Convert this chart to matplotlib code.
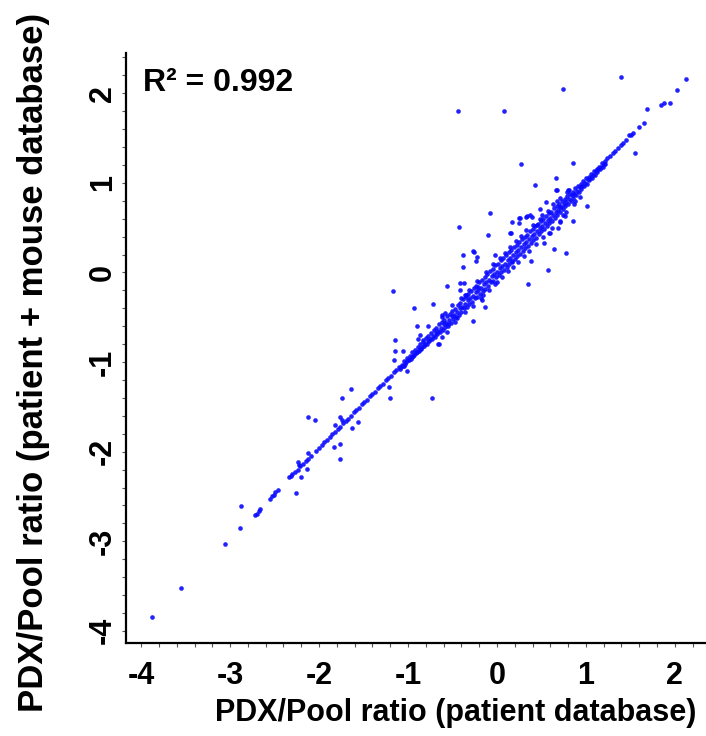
import matplotlib
matplotlib.use("Agg")
import matplotlib.pyplot as plt
from matplotlib.ticker import MultipleLocator

# lower tail of the diagonal
tail_x = [-3.88, -3.55, -3.06, -2.89, -2.72, -2.70, -2.68, -2.66, -2.55, -2.53, -2.51, -2.49, -2.46,
          -2.34, -2.32, -2.30]
tail_y = [-3.84, -3.52, -3.03, -2.85, -2.71, -2.69, -2.66, -2.64, -2.53, -2.50, -2.48, -2.45, -2.43,
          -2.28, -2.27, -2.25]

# thin continuous stretch below the core
thin_x = [-2.27, -2.24, -2.21, -2.18, -2.15, -2.12, -2.09, -2.03, -2.00, -1.97, -1.94, -1.91, -1.88,
          -1.85, -1.82, -1.79, -1.76, -1.73, -1.70, -1.67, -1.64, -1.61, -1.58, -1.55, -1.52, -1.49,
          -1.46, -1.43, -1.40, -1.37, -1.34, -1.31, -1.28, -1.25, -1.22, -1.19, -1.16, -1.13]
thin_y = [-2.23, -2.20, -2.16, -2.14, -2.10, -2.08, -2.05, -1.99, -1.96, -1.93, -1.89, -1.87, -1.84,
          -1.80, -1.78, -1.75, -1.72, -1.68, -1.66, -1.63, -1.60, -1.56, -1.54, -1.51, -1.47, -1.45,
          -1.42, -1.38, -1.36, -1.33, -1.29, -1.27, -1.24, -1.20, -1.18, -1.15, -1.11, -1.09]

# dense core band, upper edge
core_x = [-1.10, -1.07, -1.04, -1.01, -0.98, -0.95, -0.92, -0.89, -0.86, -0.83, -0.80, -0.77, -0.74,
          -0.71, -0.68, -0.65, -0.62, -0.59, -0.56, -0.53, -0.50, -0.47, -0.44, -0.41, -0.38, -0.35,
          -0.32, -0.29, -0.26, -0.23, -0.20, -0.17, -0.14, -0.11, -0.08, -0.05, -0.02, 0.01, 0.04,
          0.07, 0.10, 0.13, 0.16, 0.19, 0.22, 0.25, 0.28, 0.31, 0.34, 0.37, 0.40, 0.43, 0.46, 0.49,
          0.52, 0.55, 0.58, 0.61, 0.64, 0.67, 0.70, 0.73, 0.76, 0.79, 0.82, 0.85, 0.88, 0.91, 0.94,
          0.97, 1.00, 1.03, 1.06, 1.09, 1.12, 1.15, 1.18, 1.21, 1.24]
core_y = [-1.05, -1.03, -0.99, -0.95, -0.93, -0.89, -0.87, -0.83, -0.80, -0.78, -0.73, -0.71, -0.68,
          -0.64, -0.62, -0.58, -0.55, -0.53, -0.49, -0.46, -0.43, -0.41, -0.36, -0.34, -0.30, -0.27,
          -0.24, -0.21, -0.17, -0.15, -0.11, -0.08, -0.05, -0.02, 0.02, 0.04, 0.08, 0.10, 0.14,
          0.16, 0.19, 0.23, 0.25, 0.28, 0.31, 0.34, 0.37, 0.40, 0.42, 0.46, 0.48, 0.52, 0.54, 0.57,
          0.60, 0.63, 0.66, 0.68, 0.72, 0.74, 0.77, 0.80, 0.82, 0.85, 0.88, 0.90, 0.94, 0.96, 0.99,
          1.02, 1.05, 1.07, 1.10, 1.13, 1.16, 1.18, 1.22, 1.25, 1.28]

# dense core band, middle
core3_x = [-1.08, -1.05, -1.02, -0.99, -0.96, -0.93, -0.90, -0.87, -0.84, -0.81, -0.78, -0.75, -0.72,
           -0.69, -0.66, -0.63, -0.60, -0.57, -0.54, -0.51, -0.48, -0.45, -0.42, -0.39, -0.36, -0.33,
           -0.30, -0.27, -0.24, -0.21, -0.18, -0.15, -0.12, -0.09, -0.06, -0.03, 0.00, 0.03, 0.06,
           0.09, 0.12, 0.15, 0.18, 0.21, 0.24, 0.27, 0.30, 0.33, 0.36, 0.39, 0.42, 0.45, 0.48, 0.51,
           0.54, 0.57, 0.60, 0.63, 0.66, 0.69, 0.72, 0.75, 0.78, 0.81, 0.84, 0.87, 0.90, 0.93, 0.96,
           0.99, 1.02, 1.05, 1.08, 1.11, 1.14, 1.17, 1.20]
core3_y = [-1.06, -1.04, -1.00, -0.98, -0.94, -0.92, -0.89, -0.85, -0.83, -0.80, -0.76, -0.74, -0.71,
           -0.67, -0.65, -0.62, -0.58, -0.56, -0.53, -0.49, -0.47, -0.44, -0.40, -0.38, -0.35, -0.31,
           -0.29, -0.26, -0.22, -0.20, -0.17, -0.13, -0.11, -0.08, -0.04, -0.02, 0.01, 0.05, 0.07,
           0.10, 0.14, 0.16, 0.19, 0.23, 0.25, 0.28, 0.32, 0.34, 0.37, 0.41, 0.43, 0.46, 0.50, 0.52,
           0.55, 0.59, 0.61, 0.64, 0.68, 0.70, 0.73, 0.77, 0.79, 0.82, 0.86, 0.88, 0.91, 0.95, 0.97,
           1.00, 1.04, 1.06, 1.09, 1.13, 1.15, 1.18, 1.21]

# dense core band, lower edge
core2_x = [-1.09, -1.06, -1.03, -1.00, -0.97, -0.94, -0.91, -0.88, -0.85, -0.82, -0.79, -0.76, -0.73,
           -0.70, -0.67, -0.64, -0.61, -0.58, -0.55, -0.52, -0.49, -0.46, -0.43, -0.40, -0.37, -0.34,
           -0.31, -0.28, -0.25, -0.22, -0.19, -0.16, -0.13, -0.10, -0.07, -0.04, -0.01, 0.02, 0.05,
           0.08, 0.11, 0.14, 0.17, 0.20, 0.23, 0.26, 0.29, 0.32, 0.35, 0.38, 0.41, 0.44, 0.47, 0.50,
           0.53, 0.56, 0.59, 0.62, 0.65, 0.68, 0.71, 0.74, 0.77, 0.80, 0.83, 0.86, 0.89, 0.92, 0.95,
           0.98, 1.01, 1.04, 1.07, 1.10, 1.13, 1.16, 1.19, 1.22]
core2_y = [-1.08, -1.04, -1.02, -0.98, -0.96, -0.93, -0.90, -0.88, -0.85, -0.82, -0.80, -0.77, -0.74,
           -0.72, -0.69, -0.66, -0.64, -0.61, -0.58, -0.56, -0.52, -0.50, -0.47, -0.44, -0.40, -0.38,
           -0.35, -0.33, -0.29, -0.27, -0.24, -0.21, -0.18, -0.15, -0.11, -0.09, -0.05, -0.03, 0.00,
           0.03, 0.06, 0.09, 0.12, 0.15, 0.18, 0.21, 0.24, 0.27, 0.30, 0.33, 0.36, 0.39, 0.43, 0.46,
           0.49, 0.52, 0.55, 0.58, 0.61, 0.64, 0.67, 0.71, 0.74, 0.77, 0.80, 0.83, 0.87, 0.90, 0.93,
           0.96, 0.99, 1.03, 1.06, 1.09, 1.12, 1.15, 1.18, 1.21]

# looser points hugging the core
mid_x = [-0.62, -0.55, -0.50, -0.45, -0.40, -0.36, -0.31, -0.27, -0.22, -0.18, -0.12, -0.09, -0.04,
         0.00, 0.03, 0.06, 0.09, 0.12, 0.15, 0.18, 0.21, 0.24, 0.27, 0.30, 0.33, 0.36, 0.40, 0.44,
         0.48, 0.52, 0.57, 0.62, 0.68, 0.74, 0.81, 0.88]
mid_y = [-0.50, -0.60, -0.36, -0.51, -0.28, -0.44, -0.19, -0.37, -0.10, -0.28, 0.01, -0.19, 0.10,
         -0.11, 0.16, -0.05, 0.22, 0.02, 0.29, 0.06, 0.35, 0.12, 0.41, 0.18, 0.47, 0.24, 0.53, 0.32,
         0.60, 0.40, 0.69, 0.50, 0.80, 0.64, 0.92, 0.80]

# upper stretch of the diagonal
top_x = [1.27, 1.30, 1.33, 1.36, 1.39, 1.42, 1.45, 1.49, 1.51, 1.53, 1.60, 1.65, 1.84, 1.88, 1.94,
         2.02, 2.13]
top_y = [1.30, 1.33, 1.36, 1.39, 1.42, 1.45, 1.48, 1.53, 1.54, 1.56, 1.62, 1.67, 1.87, 1.89, 1.89,
         2.04, 2.16]

# points off the diagonal
off_x = [1.39, 0.74, -0.44, 0.08, 1.69, 1.55, 0.27, 0.85, 0.43, 0.66, 0.66, -0.08, -0.43, -1.17,
         0.78, 0.57, 0.35, 1.01, 0.76, 0.64, 0.53, -0.10, 0.16, -0.93, -0.72, -0.56, -0.26, -0.22,
         -0.38, -0.27, -0.65, -1.15, -1.15, -1.06, -1.16, -0.90, -0.78, -0.56, -0.13, 0.37, 0.33,
         0.25, 0.25, 0.17, 0.55, 0.63, 0.71, 0.80, 0.93, 0.71, 0.87, 0.71, 0.45, 0.60, -0.38, -0.42,
         -0.42, -0.35, -0.17, -0.02, 0.17, 0.38, -0.73, -1.20, -1.21, -1.01, -0.87, -0.83, -0.89,
         -0.62, -0.66, -0.47, -0.62, -0.58, -2.88, -2.26, -2.20, -2.24, -2.22, -2.13, -2.12, -2.12,
         -2.04, -1.83, -1.76, -1.76, -1.82, -1.76, -1.74, -1.63, -1.56, -1.74, -1.64, 0.15, -0.27,
         -0.24, 0.58, 0.69, 0.71, 0.39, 0.48, 0.51, 0.26, 0.34, 0.85, 0.78, 0.67, 0.79, -0.21, -0.16,
         -0.37, -0.36, -0.02]
off_y = [2.18, 2.05, 1.80, 1.80, 1.82, 1.33, 1.21, 1.22, 0.98, 1.05, 0.92, 0.66, 0.51, -0.21,
         0.22, 0.03, -0.13, 0.74, 0.63, 0.26, 0.33, 0.42, 0.44, -0.40, -0.35, -0.15, 0.23, 0.17,
         0.06, -0.54, -0.80, -0.75, -0.88, -0.88, -0.98, -0.60, -0.60, -0.66, -0.39, 0.64, 0.62,
         0.61, 0.55, 0.56, 0.79, 0.77, 0.83, 0.92, 0.84, 0.73, 0.76, 0.57, 0.53, 0.44, 0.19, -0.12,
         -0.20, -0.25, -0.31, 0.19, 0.13, 0.13, -1.40, -1.40, -1.28, -1.10, -0.70, -0.75, -0.74,
         -0.72, -0.80, -0.55, -0.47, -0.45, -2.61, -2.46, -2.28, -2.11, -2.15, -2.19, -2.01, -1.61,
         -1.65, -1.95, -2.08, -1.91, -1.70, -1.61, -1.65, -1.74, -1.67, -1.40, -1.30, 0.44, 0.24,
         0.13, 0.44, 0.50, 0.56, 0.62, 0.71, 0.64, 0.61, 0.63, 0.58, 0.67, 0.92, 0.90, -0.16, -0.25,
         -0.12, -0.25, -0.13]

r2_text = "R\u00b2 = 0.992"
x_label = "PDX/Pool ratio (patient database)"
y_label = "PDX/Pool ratio (patient + mouse database)"

plt.rcParams['font.family'] = ['Liberation Sans', 'DejaVu Sans']
plt.rcParams['font.weight'] = 'bold'
plt.rcParams['axes.unicode_minus'] = False

fig = plt.figure(figsize=(7.06, 7.36), dpi=100)
ax = fig.add_axes([0.1785, 0.1264, 0.8215, 0.8016])

dot = dict(s=11, c="#0a0aff", marker="o", linewidths=0, alpha=0.9)
for xs, ys in [(tail_x, tail_y), (thin_x, thin_y), (core_x, core_y), (core3_x, core3_y),
               (core2_x, core2_y), (mid_x, mid_y), (top_x, top_y), (off_x, off_y)]:
    ax.scatter(xs, ys, **dot)

ax.set_xlim(-4.17, 2.35)
ax.set_ylim(-4.135, 2.45)

for side in ["top", "right"]:
    ax.spines[side].set_visible(False)
for side in ["left", "bottom"]:
    ax.spines[side].set_linewidth(1.6)

ax.xaxis.set_major_locator(MultipleLocator(1))
ax.yaxis.set_major_locator(MultipleLocator(1))
ax.xaxis.set_minor_locator(MultipleLocator(0.2))
ax.yaxis.set_minor_locator(MultipleLocator(0.2))
ax.tick_params(which="both", direction="out", length=3, width=0.8, color="#555555")
ax.tick_params(axis="x", labelsize=22, pad=10)
ax.tick_params(axis="y", labelsize=22, pad=3)
for lab in ax.get_yticklabels():
    lab.set_rotation(90)
    lab.set_va("center")

ax.set_xlabel(x_label, fontsize=22, fontweight="bold")
ax.set_ylabel(y_label, fontsize=25, fontweight="bold")
ax.xaxis.set_label_coords(0.569, -0.093)
ax.yaxis.set_label_coords(-0.131, 0.475)

ax.text(0.03, 0.975, r2_text, transform=ax.transAxes, fontsize=23, fontweight="bold",
        ha="left", va="top")

fig.savefig("out.png", dpi=100)
